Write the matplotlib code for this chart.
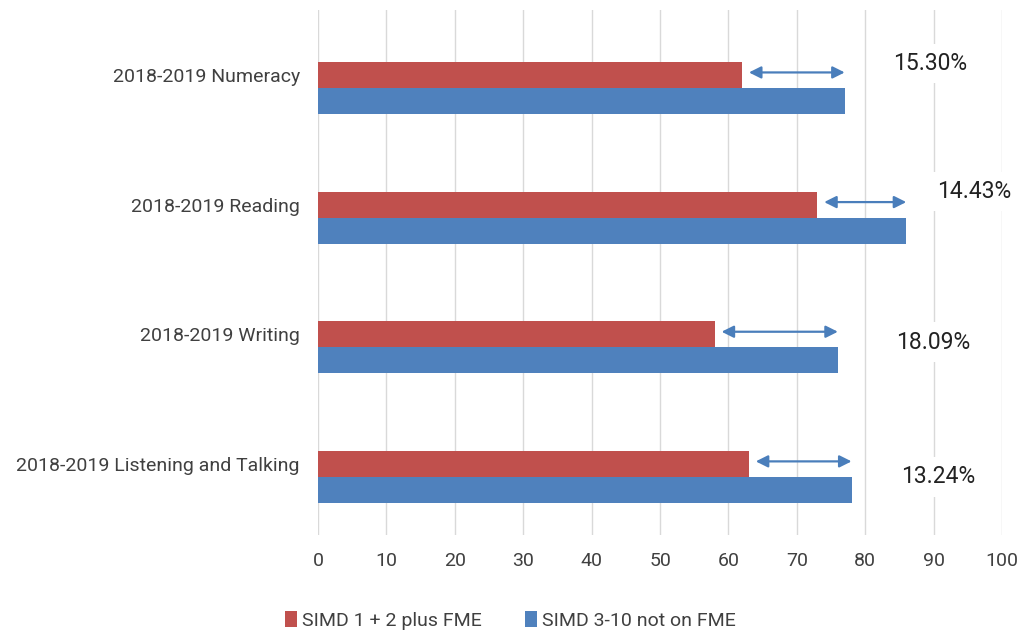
import numpy as np
import matplotlib.pyplot as plt

plt.rcParams['font.family'] = ['Roboto', 'DejaVu Sans']

categories = ["2018-2019 Numeracy", "2018-2019 Reading",
              "2018-2019 Writing", "2018-2019 Listening and Talking"]
simd_low = [62, 73, 58, 63]
simd_high = [77, 86, 76, 78]
gaps = ["15.30%", "14.43%", "18.09%", "13.24%"]
gap_x = [89.5, 96, 90, 90.6]
gap_dy = [-0.19, -0.2, -0.04, 0.0]

red = '#C0504D'
blue = '#4F81BD'

fig = plt.figure(figsize=(10.21, 6.38), dpi=100)
ax = fig.add_axes([0.3115, 0.161, 0.6699, 0.823])

y = np.arange(len(categories))
h = 0.2
ax.barh(y - h/2, simd_low, height=h, color=red, label='SIMD 1 + 2 plus FME', zorder=3)
ax.barh(y + h/2, simd_high, height=h, color=blue, label='SIMD 3-10 not on FME', zorder=3)

for i in range(len(categories)):
    ax.annotate('', xy=(simd_high[i], y[i] - 0.12), xytext=(simd_low[i] + 1, y[i] - 0.12),
                arrowprops=dict(arrowstyle='<|-|>', color='#4A7EBB', lw=1.6,
                                mutation_scale=18, shrinkA=0, shrinkB=0), zorder=4)
    ax.text(gap_x[i], y[i] + gap_dy[i], gaps[i], ha='center', va='center',
            fontsize=16.5, color='#222222', zorder=5,
            bbox=dict(facecolor='white', edgecolor='none', pad=6))

ax.set_xlim(0, 100)
ax.set_ylim(3.45, -0.6)
ax.set_xticks(np.arange(0, 101, 10))
# labels sit a little above the middle of each pair of bars
ax.set_yticks(y - 0.1)
ax.set_yticklabels(categories)
ax.tick_params(axis='both', length=0, labelsize=14, colors='#404040')
ax.tick_params(axis='x', pad=12)
ax.tick_params(axis='y', pad=13)
ax.grid(axis='x', color='#D9D9D9', lw=1, zorder=0)
for s in ax.spines.values():
    s.set_visible(False)

fig.legend(loc='lower center', bbox_to_anchor=(0.5, -0.015), ncol=2, frameon=False,
           fontsize=14, handlelength=0.6, handleheight=0.9, handletextpad=0.3,
           columnspacing=2.2, labelcolor='#404040')

fig.savefig('out.png')
